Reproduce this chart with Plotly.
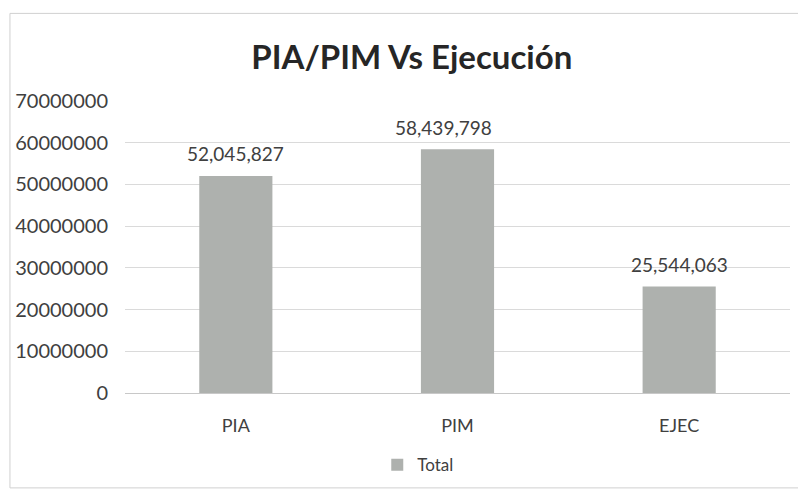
import plotly.graph_objects as go

categorias = ["PIA", "PIM", "EJEC"]
totales = [52045827, 58439798, 25544063]
etiquetas = ["52,045,827", "58,439,798", "25,544,063"]
ticks_y = [0, 10000000, 20000000, 30000000, 40000000, 50000000, 60000000, 70000000]

FUENTE = "Lato, sans-serif"
desplaz_x = [0, -14, 0]  # la etiqueta de PIM está algo corrida a la izquierda

fig = go.Figure()

fig.add_trace(go.Bar(
    x=categorias,
    y=totales,
    name="Total",
    marker=dict(color="#aeb1ae", line=dict(width=0)),
    width=0.33,
))

# etiquetas de datos sobre las barras
for cat, val, txt, dx in zip(categorias, totales, etiquetas, desplaz_x):
    fig.add_annotation(
        x=cat, y=val, text=txt,
        showarrow=False,
        yanchor="middle", yshift=22, xshift=dx,
        font=dict(size=19, color="#404040", family=FUENTE),
    )

fig.update_layout(
    width=806,
    height=493,
    paper_bgcolor="white",
    plot_bgcolor="white",
    margin=dict(l=117, r=24, t=93, b=108),
    title=dict(
        text="<b>PIA/PIM Vs Ejecución</b>",
        x=0.501, xanchor="center",
        y=0.900, yanchor="middle",
        font=dict(size=33, color="#262626", family=FUENTE),
        automargin=False,
    ),
    showlegend=True,
    legend=dict(
        orientation="h",
        x=0.441, xanchor="center",
        y=-0.247, yanchor="middle",
        font=dict(size=17, color="#404040", family=FUENTE),
        itemwidth=30,
    ),
    bargap=0.67,
    font=dict(family=FUENTE),
)

fig.update_xaxes(
    automargin=False,
    showline=True,
    linecolor="#c8c8c8",
    linewidth=1,
    tickfont=dict(size=18, color="#404040", family=FUENTE),
    ticks="",
    ticklabelstandoff=16,
)

fig.update_yaxes(
    automargin=False,
    range=[0, 70000000],
    tickvals=ticks_y,
    tickformat="d",
    showgrid=True,
    gridcolor="#dadada",
    gridwidth=1,
    zeroline=False,
    tickfont=dict(size=20, color="#404040", family=FUENTE),
    ticklabelstandoff=16,
)

# marco del área del gráfico
fig.add_shape(
    type="rect", xref="paper", yref="paper",
    x0=-0.173, x1=1.05, y0=-0.325, y1=1.30,
    line=dict(color="#d0d0d0", width=1),
)

fig.write_html("out.html")
